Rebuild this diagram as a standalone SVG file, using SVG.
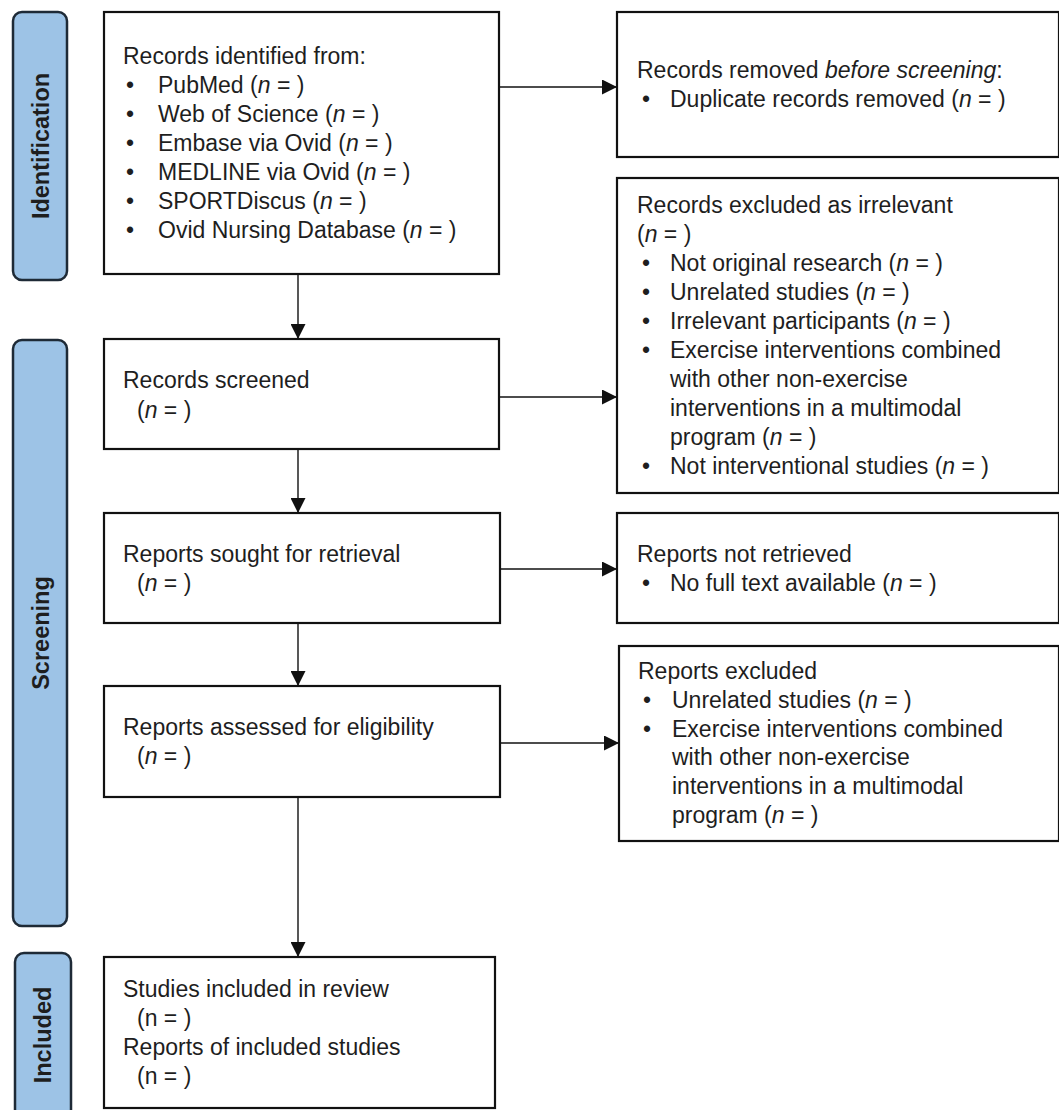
<svg xmlns="http://www.w3.org/2000/svg" width="1059" height="1110" viewBox="0 0 1059 1110">
<style>
  .box { fill: #ffffff; stroke: #111111; stroke-width: 2.2; }
  .phase { fill: #9dc3e6; stroke: #1e2a36; stroke-width: 2.5; }
  .t { font-family: "Liberation Sans", Arial, sans-serif; font-size: 23px; fill: #1e1e1e; }
  .pl { font-family: "Liberation Sans", Arial, sans-serif; font-size: 23.5px; font-weight: bold; fill: #1e1e1e; text-anchor: middle; }
  .i { font-style: italic; }
  .conn { stroke: #111111; stroke-width: 1.4; fill: none; marker-end: url(#ah); }
</style>
<defs>
  <marker id="ah" markerUnits="userSpaceOnUse" markerWidth="15" markerHeight="15" viewBox="0 0 15 15" refX="15" refY="7.5" orient="auto">
    <path d="M0,0 L15,7.5 L0,15 Z" fill="#111111"/>
  </marker>
</defs>
<rect width="1059" height="1110" fill="#ffffff"/>

<g id="phase-identification">
  <rect class="phase" x="13" y="12" width="54" height="268" rx="9"/>
  <text class="pl" x="49" y="146" transform="rotate(-90 49 146)">Identification</text>
</g>
<g id="phase-screening">
  <rect class="phase" x="13" y="340" width="54" height="586" rx="9"/>
  <text class="pl" x="49" y="633" transform="rotate(-90 49 633)">Screening</text>
</g>
<g id="phase-included">
  <rect class="phase" x="15" y="953" width="56" height="170" rx="9"/>
  <text class="pl" x="51" y="1035" transform="rotate(-90 51 1035)">Included</text>
</g>

<g id="connectors">
  <line class="conn" x1="298" y1="274" x2="298" y2="339"/>
  <line class="conn" x1="298" y1="449" x2="298" y2="513"/>
  <line class="conn" x1="298" y1="623" x2="298" y2="686"/>
  <line class="conn" x1="298" y1="797" x2="298" y2="957"/>
  <line class="conn" x1="499" y1="87" x2="617" y2="87"/>
  <line class="conn" x1="499" y1="397" x2="617" y2="397"/>
  <line class="conn" x1="500" y1="569" x2="617" y2="569"/>
  <line class="conn" x1="500" y1="743" x2="619" y2="743"/>
</g>

<g id="records-identified">
  <rect class="box" x="104" y="12" width="395" height="262"/>
  <text class="t" x="123" y="64">Records identified from:</text>
  <text class="t" x="126" y="93">•</text><text class="t" x="158" y="93">PubMed (<tspan class="i">n</tspan> = )</text>
  <text class="t" x="126" y="122">•</text><text class="t" x="158" y="122">Web of Science (<tspan class="i">n</tspan> = )</text>
  <text class="t" x="126" y="151">•</text><text class="t" x="158" y="151">Embase via Ovid (<tspan class="i">n</tspan> = )</text>
  <text class="t" x="126" y="180">•</text><text class="t" x="158" y="180">MEDLINE via Ovid (<tspan class="i">n</tspan> = )</text>
  <text class="t" x="126" y="209">•</text><text class="t" x="158" y="209">SPORTDiscus (<tspan class="i">n</tspan> = )</text>
  <text class="t" x="126" y="238">•</text><text class="t" x="158" y="238">Ovid Nursing Database (<tspan class="i">n</tspan> = )</text>
</g>

<g id="records-removed">
  <rect class="box" x="617" y="12" width="442" height="145"/>
  <text class="t" x="637" y="78">Records removed <tspan class="i">before screening</tspan>:</text>
  <text class="t" x="642" y="107">•</text><text class="t" x="670" y="107">Duplicate records removed (<tspan class="i">n</tspan> = )</text>
</g>

<g id="records-screened">
  <rect class="box" x="104" y="339" width="395" height="110"/>
  <text class="t" x="123" y="388">Records screened</text>
  <text class="t" x="137" y="418">(<tspan class="i">n</tspan> = )</text>
</g>

<g id="records-excluded">
  <rect class="box" x="617" y="178" width="442" height="315"/>
  <text class="t" x="637" y="213">Records excluded as irrelevant</text>
  <text class="t" x="637" y="242">(<tspan class="i">n</tspan> = )</text>
  <text class="t" x="642" y="271">•</text><text class="t" x="670" y="271">Not original research (<tspan class="i">n</tspan> = )</text>
  <text class="t" x="642" y="300">•</text><text class="t" x="670" y="300">Unrelated studies (<tspan class="i">n</tspan> = )</text>
  <text class="t" x="642" y="329">•</text><text class="t" x="670" y="329">Irrelevant participants (<tspan class="i">n</tspan> = )</text>
  <text class="t" x="642" y="358">•</text><text class="t" x="670" y="358">Exercise interventions combined</text>
  <text class="t" x="670" y="387">with other non-exercise</text>
  <text class="t" x="670" y="416">interventions in a multimodal</text>
  <text class="t" x="670" y="445">program (<tspan class="i">n</tspan> = )</text>
  <text class="t" x="642" y="474">•</text><text class="t" x="670" y="474">Not interventional studies (<tspan class="i">n</tspan> = )</text>
</g>

<g id="reports-sought">
  <rect class="box" x="104" y="513" width="396" height="110"/>
  <text class="t" x="123" y="562">Reports sought for retrieval</text>
  <text class="t" x="137" y="591">(<tspan class="i">n</tspan> = )</text>
</g>

<g id="reports-not-retrieved">
  <rect class="box" x="617" y="513" width="442" height="110"/>
  <text class="t" x="637" y="562">Reports not retrieved</text>
  <text class="t" x="642" y="591">•</text><text class="t" x="670" y="591">No full text available (<tspan class="i">n</tspan> = )</text>
</g>

<g id="reports-assessed">
  <rect class="box" x="104" y="686" width="396" height="111"/>
  <text class="t" x="123" y="735">Reports assessed for eligibility</text>
  <text class="t" x="137" y="764">(<tspan class="i">n</tspan> = )</text>
</g>

<g id="reports-excluded">
  <rect class="box" x="619" y="646" width="440" height="195"/>
  <text class="t" x="638" y="679">Reports excluded</text>
  <text class="t" x="643" y="708">•</text><text class="t" x="672" y="708">Unrelated studies (<tspan class="i">n</tspan> = )</text>
  <text class="t" x="643" y="737">•</text><text class="t" x="672" y="737">Exercise interventions combined</text>
  <text class="t" x="672" y="765">with other non-exercise</text>
  <text class="t" x="672" y="794">interventions in a multimodal</text>
  <text class="t" x="672" y="823">program (<tspan class="i">n</tspan> = )</text>
</g>

<g id="studies-included">
  <rect class="box" x="104" y="957" width="391" height="151"/>
  <text class="t" x="123" y="997">Studies included in review</text>
  <text class="t" x="137" y="1026">(n = )</text>
  <text class="t" x="123" y="1055">Reports of included studies</text>
  <text class="t" x="137" y="1084">(n = )</text>
</g>
</svg>
